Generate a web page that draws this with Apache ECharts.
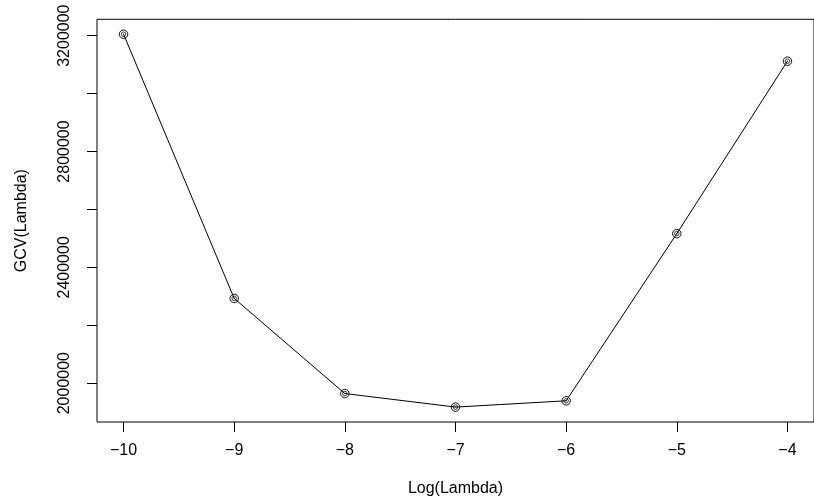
<!DOCTYPE html>
<html>
<head>
<meta charset="utf-8">
<script src="https://cdn.jsdelivr.net/npm/echarts@6/dist/echarts.min.js"></script>
<style>
  html, body { margin: 0; padding: 0; background: #fff; }
  #chart { width: 814px; height: 502px; }
</style>
</head>
<body>
<div id="chart"></div>
<script>
// GCV criterion against log(lambda)
const logLambda = [-10, -9, -8, -7, -6, -5, -4];
const gcv = [3205000, 2292600, 1964200, 1917400, 1939100, 2516300, 3111900];

// tick positions and labelled ticks
const xTicks = [-10, -9, -8, -7, -6, -5, -4];
const yTicks = [2000000, 2200000, 2400000, 2600000, 2800000, 3000000, 3200000];
const yLabelTicks = [2000000, 2400000, 2800000, 3200000];

const FONT = 'Liberation Sans, Arial, Helvetica, sans-serif';
const FS = 16;

// axis ranges padded by 4% on each side
function padRange(vals) {
  const lo = Math.min(...vals), hi = Math.max(...vals);
  const d = (hi - lo) * 0.04;
  return [lo - d, hi + d];
}
const xr = padRange(logLambda);
const yr = padRange(gcv);

const points = logLambda.map((x, i) => [x, gcv[i]]);
const minusSign = v => String(v).replace('-', '\u2212');

const chart = echarts.init(document.getElementById('chart'), null, { renderer: 'canvas' });
chart.setOption({
  animation: false,
  backgroundColor: '#fff',
  grid: {
    left: 97, top: 19.3, width: 728, height: 404,
    show: true, borderColor: '#000', borderWidth: 1, backgroundColor: 'transparent'
  },
  xAxis: {
    type: 'value', min: xr[0], max: xr[1],
    name: 'Log(Lambda)', nameLocation: 'middle', nameGap: 59,
    nameTextStyle: { fontFamily: FONT, fontSize: FS, color: '#000' },
    axisLine: { show: false },
    splitLine: { show: false },
    axisTick: { show: true, inside: false, length: 10, customValues: xTicks,
      lineStyle: { color: '#000', width: 1 } },
    axisLabel: { show: true, margin: 21, customValues: xTicks,
      fontFamily: FONT, fontSize: FS, color: '#000', formatter: minusSign }
  },
  yAxis: {
    type: 'value', min: yr[0], max: yr[1],
    name: 'GCV(Lambda)', nameLocation: 'middle', nameGap: 67, nameRotate: 90,
    nameTextStyle: { fontFamily: FONT, fontSize: FS, color: '#000' },
    axisLine: { show: false },
    splitLine: { show: false },
    axisTick: { show: true, inside: false, length: 10, customValues: yTicks,
      lineStyle: { color: '#000', width: 1 } },
    axisLabel: { show: true, rotate: 90, margin: 24, customValues: yLabelTicks,
      fontFamily: FONT, fontSize: FS, color: '#000', formatter: v => String(v) }
  },
  series: [
    {
      type: 'line', data: points,
      symbol: 'circle', symbolSize: 8.5,
      lineStyle: { color: '#000', width: 1 },
      itemStyle: { color: 'rgba(0,0,0,0)', borderColor: '#111', borderWidth: 1 },
      clip: false
    },
    {
      type: 'scatter', data: points,
      symbol: 'circle', symbolSize: 4.5,
      itemStyle: { color: 'rgba(0,0,0,0)', borderColor: '#111', borderWidth: 1 },
      clip: false
    },
    {
      type: 'scatter', data: points,
      symbol: 'circle', symbolSize: 1.5,
      itemStyle: { color: '#333' },
      clip: false
    }
  ]
});
</script>
</body>
</html>
